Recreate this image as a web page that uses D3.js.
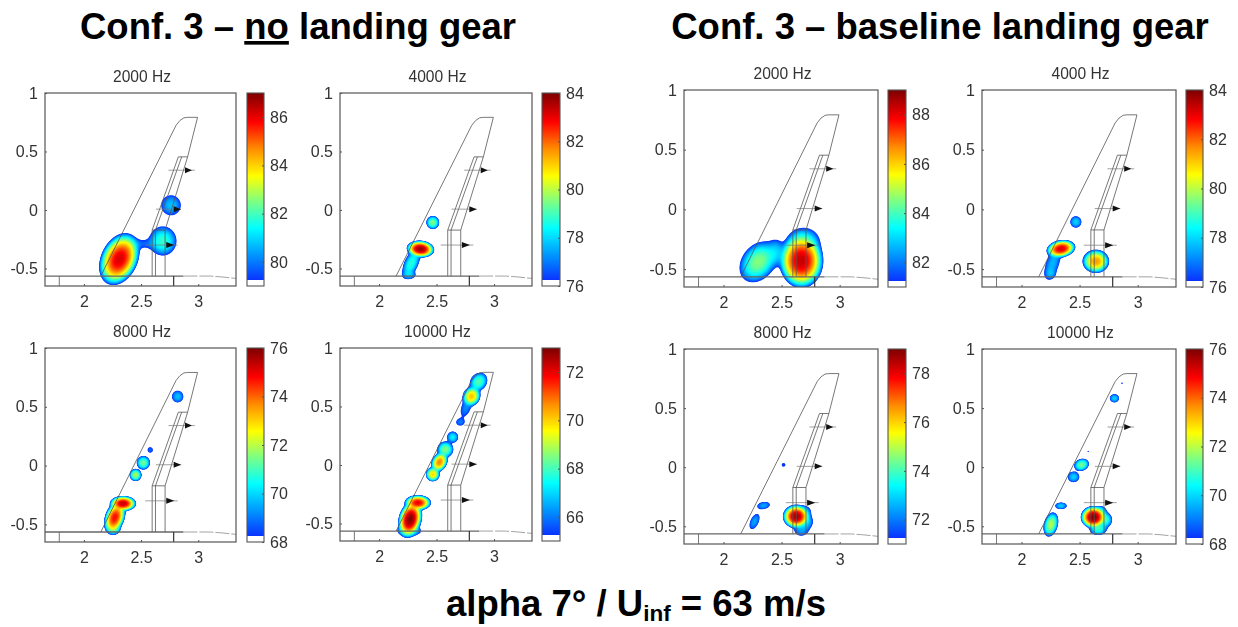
<!DOCTYPE html>
<html>
<head>
<meta charset="utf-8">
<script src="https://cdn.jsdelivr.net/npm/d3@7"></script>
<style>
html,body{margin:0;padding:0;background:#fff;}
svg{display:block;font-family:"Liberation Sans",Arial,sans-serif;}
.plot{filter:blur(0.45px);}
</style>
</head>
<body>
<div id="areaDibujo"></div>
<script>
var width = 1238, height = 627;

// tick labels
var xTicks = [2, 2.5, 3];
var yTicks = [-0.5, 0, 0.5, 1];
var xDomain = [1.66, 3.33];
var yDomain = [-0.65, 1];

// jet colour map as it looks in the colour bars (first part of the bar stays white)
var barStops = [0.03, 0.16, 0.30, 0.44, 0.57, 0.71, 0.85, 1];
var barColors = ['#0a32ff', '#0096ff', '#00ffff', '#80ff80', '#ffff00', '#ff8c00', '#ff0000', '#7d0000'];

// wing drawing, data units
var wingOutline = [[2.148,-0.565],[2.806,0.724],[2.84,0.765],[2.875,0.788],[2.907,0.792],[2.994,0.792],[2.907,0.454]];
var flapOuter = [[2.597,-0.172],[2.826,0.454],[2.907,0.454],[2.71,-0.172],[2.597,-0.172]];
var flapInner = [[2.626,-0.172],[2.855,0.454]];
var flapRootA = [[2.597,-0.172],[2.597,-0.565]];
var flapRootB = [[2.626,-0.172],[2.626,-0.565]];
var flapRootC = [[2.71,-0.172],[2.71,-0.565]];
var ground = [[1.66,-0.565],[2.87,-0.565]];
var groundTail = [[2.87,-0.565],[3.1,-0.565],[3.2,-0.572],[3.33,-0.585]];
var strutA = [[1.785,-0.565],[1.785,-0.65]];
var strutB = [[2.785,-0.565],[2.785,-0.65]];
// x start, x end, y, arrow head start, arrow head end
var arrows = [[2.74,2.97,0.34,2.884,2.945],[2.63,2.85,0.007,2.785,2.85],[2.536,2.82,-0.30,2.72,2.79]];

// noise sources: x, y, radius 1, radius 2, angle, peak level
var sourcesL1 = [[2.31,-0.42,0.235,0.16,64,86.2],[2.69,-0.265,0.12,0.125,0,81.9],[2.50,-0.29,0.08,0.03,0,79.7],[2.762,0.04,0.086,0.086,0,80.8]];
var sourcesL2 = [[2.467,-0.107,0.056,0.056,0,79.6],[2.36,-0.334,0.12,0.072,-5,83.8],[2.28,-0.457,0.13,0.06,65,78.8],[2.265,-0.556,0.05,0.03,0,77.6]];
var sourcesL3 = [[2.342,-0.323,0.115,0.065,0,75.4],[2.27,-0.442,0.145,0.085,70,74.8],[2.264,-0.536,0.055,0.05,0,71.2],[2.452,-0.08,0.052,0.052,0,72],[2.52,0.024,0.058,0.058,0,71.5],[2.58,0.133,0.024,0.024,0,68.8],[2.82,0.587,0.05,0.05,0,69.8]];
var sourcesL4 = [[2.337,-0.323,0.115,0.065,0,72],[2.27,-0.465,0.16,0.1,75,73],[2.265,-0.565,0.1,0.04,0,67],[2.467,-0.08,0.06,0.06,0,70],[2.525,0.024,0.09,0.065,60,70.8],[2.576,0.133,0.07,0.068,0,68.6],[2.64,0.238,0.048,0.048,0,67.4],[2.706,0.365,0.035,0.028,0,66],[2.755,0.488,0.075,0.04,70,66.2],[2.804,0.587,0.085,0.075,60,70.2],[2.865,0.71,0.085,0.07,50,68.2]];
var sourcesR1 = [[2.67,-0.43,0.19,0.23,0,88.4],[2.69,-0.27,0.135,0.115,0,83.5],[2.3,-0.44,0.19,0.14,50,84.6],[2.454,-0.36,0.07,0.1,0,82.8]];
var sourcesR2 = [[2.34,-0.33,0.125,0.072,10,83.2],[2.267,-0.455,0.13,0.055,70,77.7],[2.253,-0.54,0.03,0.03,0,77],[2.468,-0.105,0.048,0.048,0,78],[2.64,-0.435,0.115,0.098,0,81.6]];
var sourcesR3 = [[2.345,-0.324,0.055,0.03,10,72.5],[2.267,-0.46,0.07,0.035,65,72.5],[2.517,0.02,0.02,0.02,0,71.3],[2.626,-0.417,0.115,0.1,0,78.7],[2.67,-0.53,0.06,0.05,0,72.5],[2.70,-0.375,0.05,0.045,0,72.5],[2.71,-0.46,0.06,0.06,0,73]];
var sourcesR4 = [[2.62,-0.423,0.11,0.095,0,76],[2.66,-0.52,0.075,0.055,0,71],[2.68,-0.375,0.05,0.045,0,70.5],[2.72,-0.445,0.06,0.065,0,71],[2.253,-0.485,0.105,0.06,75,72],[2.34,-0.327,0.05,0.028,0,70],[2.448,-0.082,0.05,0.045,0,70],[2.517,0.02,0.065,0.05,20,71.5],[2.80,0.583,0.04,0.035,0,70],[2.865,0.71,0.008,0.008,0,68.6],[2.575,0.133,0.008,0.008,0,68.5]];

var panelTitles = ['2000 Hz','4000 Hz','8000 Hz','10000 Hz','2000 Hz','4000 Hz','8000 Hz','10000 Hz'];
var panelRanges = [[79,87],[76,84],[68,76],[65,73],[81,89],[76,84],[71,79],[68,76]];
var panelBarTicks = [[80,82,84,86],[76,78,80,82,84],[68,70,72,74,76],[66,68,70,72],[82,84,86,88],[76,78,80,82,84],[72,74,76,78],[68,70,72,74,76]];
var panelSources = [sourcesL1,sourcesL2,sourcesL3,sourcesL4,sourcesR1,sourcesR2,sourcesR3,sourcesR4];

// frame of each map: left, top, right, bottom, bar left, bar right
var frames = [
  [45,93,236,286,247,264],[340,93,532,286,542,560],
  [45,348,236,542,247,264],[340,348,532,541,542,560],
  [684,90,878,287,888,906],[982,90,1176,287,1186,1203],
  [684,349,878,544,888,906],[982,349,1176,544,1186,1203]
];

var svg = d3.select('#areaDibujo').append('svg')
  .attr('width', width).attr('height', height);

var colorT = d3.scaleLinear().domain(barStops).range(barColors).clamp(true);
var tickText = function(d){ return String(d); };

function levelAt(sources, floor, x, y){
  // soft maximum, so that close sources melt together
  var sum = 0, k = 0.8;
  sources.forEach(function(s){
    var a = s[4]*Math.PI/180;
    var dx = x-s[0], dy = y-s[1];
    var u = (dx*Math.cos(a)+dy*Math.sin(a))/s[2];
    var v = (-dx*Math.sin(a)+dy*Math.cos(a))/s[3];
    var r2 = u*u+v*v;
    var lev = (s[5]-floor)*(1-Math.pow(r2,1.1));
    sum += Math.exp(k*lev);
  });
  return floor+Math.log(Math.max(sum,1e-30))/k;
}

function styleAxis(a){
  a.select('.domain').remove();
  a.selectAll('line').attr('stroke','#555');
  a.selectAll('text').attr('font-size',16).attr('fill','#333').attr('font-family','"Liberation Sans",Arial,sans-serif');
}

function drawPanel(i){
  var f = frames[i], w = f[2]-f[0], h = f[3]-f[1];
  var range = panelRanges[i];
  var t0 = range[0]+0.03*(range[1]-range[0]);
  var xScale = d3.scaleLinear().domain(xDomain).range([0,w]);
  var yScale = d3.scaleLinear().domain(yDomain).range([h,0]);
  var barScale = d3.scaleLinear().domain(range).range([h,0]);

  var g = svg.append('g').attr('class','plot').attr('transform','translate('+f[0]+','+f[1]+')');

  // contour field, one grid cell per pixel
  var values = new Float64Array(w*h);
  for(var r=0;r<h;r++){
    for(var c=0;c<w;c++){
      values[r*w+c] = levelAt(panelSources[i], t0, xScale.invert(c+0.5), yScale.invert(r+0.5));
    }
  }
  var thresholds = d3.range(0,64).map(function(k){ return t0+0.02+k*(range[1]-t0)/64; });
  var contours = d3.contours().size([w,h]).smooth(true).thresholds(thresholds)(values);
  g.selectAll('path.level').data(contours).enter().append('path')
    .attr('class','level')
    .attr('d', d3.geoPath())
    .attr('fill', function(d){ return colorT((d.value-range[0])/(range[1]-range[0])); })
    .attr('stroke','none');

  var line = d3.line().x(function(d){ return xScale(d[0]); }).y(function(d){ return yScale(d[1]); });

  [wingOutline, flapOuter, flapInner, flapRootA, flapRootB, flapRootC, strutA].forEach(function(p){
    g.append('path').attr('d', line(p)).attr('fill','none').attr('stroke','#555').attr('stroke-width',0.8);
  });
  g.append('path').attr('d', line(ground)).attr('fill','none').attr('stroke','#666').attr('stroke-width',1.3);
  g.append('path').attr('d', line(strutB)).attr('fill','none').attr('stroke','#333').attr('stroke-width',1.2);
  g.append('path').attr('d', line(groundTail)).attr('fill','none').attr('stroke','#999').attr('stroke-width',0.9).attr('stroke-dasharray','14 2');

  arrows.forEach(function(a){
    g.append('path').attr('d', line([[a[0],a[2]],[a[1],a[2]]])).attr('fill','none').attr('stroke','#777').attr('stroke-width',0.7);
    g.append('path')
      .attr('d', 'M'+xScale(a[3])+','+(yScale(a[2])-3)+'L'+xScale(a[4])+','+yScale(a[2])+'L'+xScale(a[3])+','+(yScale(a[2])+3)+'Z')
      .attr('fill','#111');
  });

  // frame and axes
  g.append('rect').attr('width',w).attr('height',h).attr('fill','none').attr('stroke','#555').attr('stroke-width',1.2);

  var xAxis = g.append('g').attr('transform','translate(0,'+h+')')
    .call(d3.axisBottom(xScale).tickValues(xTicks).tickSize(-2).tickPadding(10).tickFormat(tickText));
  var yAxis = g.append('g')
    .call(d3.axisLeft(yScale).tickValues(yTicks).tickSize(-2).tickPadding(7).tickFormat(tickText));
  styleAxis(xAxis);
  styleAxis(yAxis);

  g.append('text').attr('x',w/2+1.5).attr('y',-11).attr('text-anchor','middle')
    .attr('font-size',15.6).attr('fill','#333').text(panelTitles[i]);

  // colour bar
  var bar = g.append('g').attr('transform','translate('+(f[4]-f[0])+',0)');
  var barW = f[5]-f[4];
  bar.selectAll('rect.step').data(d3.range(0,h)).enter().append('rect')
    .attr('class','step')
    .attr('x',0).attr('width',barW)
    .attr('y',function(d){ return d; }).attr('height',1.2)
    .attr('fill',function(d){
      var t = (barScale.invert(d+0.5)-range[0])/(range[1]-range[0]);
      return t<0.03 ? '#fff' : colorT(t);
    });
  bar.append('rect').attr('width',barW).attr('height',h).attr('fill','none').attr('stroke','#555').attr('stroke-width',1.1);
  var barAxis = bar.append('g').attr('transform','translate('+barW+',0)')
    .call(d3.axisRight(barScale).tickValues(panelBarTicks[i]).tickSize(-2).tickPadding(6).tickFormat(tickText));
  styleAxis(barAxis);
}

d3.range(0,8).forEach(drawPanel);

// headings
var headA = svg.append('text').attr('x',298).attr('y',39).attr('text-anchor','middle')
  .attr('font-size',36.5).attr('font-weight','bold').attr('fill','#000');
headA.append('tspan').text('Conf. 3 – ');
headA.append('tspan').attr('text-decoration','underline').text('no');
headA.append('tspan').text(' landing gear');

svg.append('text').attr('x',940).attr('y',39).attr('text-anchor','middle')
  .attr('font-size',36.5).attr('font-weight','bold').attr('fill','#000')
  .text('Conf. 3 – baseline landing gear');

var foot = svg.append('text').attr('x',636).attr('y',616).attr('text-anchor','middle')
  .attr('font-size',36.5).attr('font-weight','bold').attr('fill','#000');
foot.append('tspan').text('alpha 7° / U');
foot.append('tspan').attr('font-size',22.5).attr('dy',5).text('inf');
foot.append('tspan').attr('dy',-5).text(' = 63 m/s');
</script>
</body>
</html>
